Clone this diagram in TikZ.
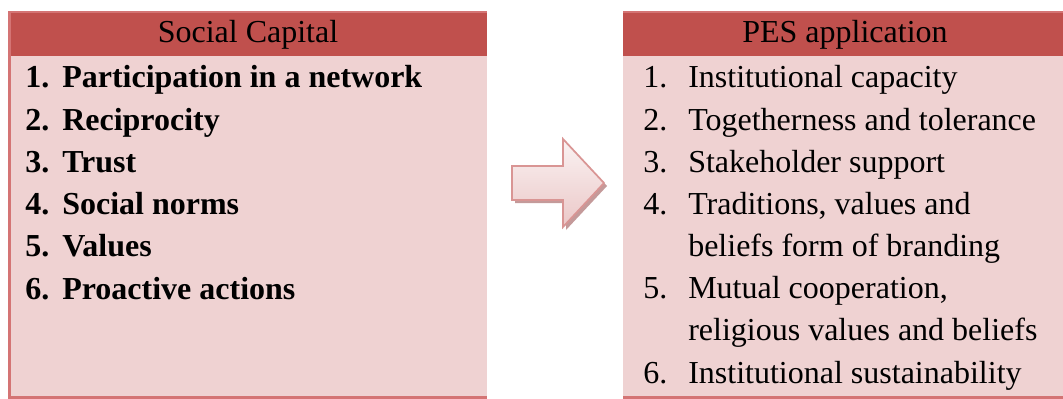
\documentclass[tikz,border=0pt]{standalone}
\usepackage{fontspec}
\setmainfont{Liberation Serif}
\begin{document}
\definecolor{hdr}{HTML}{C0504D}
\definecolor{body}{HTML}{EFD2D2}
\definecolor{rim}{HTML}{D47474}
\definecolor{arrowrim}{HTML}{D99594}
\definecolor{arrowshadow}{HTML}{C49A9A}
\definecolor{arrowtop}{HTML}{FAF3F3}
\definecolor{arrowbot}{HTML}{EBC7C7}
\begin{tikzpicture}[x=0.75pt,y=-0.75pt,
  txt/.style={anchor=base west,inner sep=0pt,font=\fontsize{24}{28}\selectfont},
  btxt/.style={txt,font=\fontsize{24}{28}\selectfont\bfseries},
  head/.style={anchor=base,inner sep=0pt,font=\fontsize{24}{28}\selectfont}]
\useasboundingbox (0,0) rectangle (1063,399);
% left panel
\fill[body] (9,12) rectangle (487,398);
\fill[hdr] (9,13) rectangle (487,56);
\draw[rim,line width=1.8pt] (487,12) -- (9.5,12) -- (9.5,397.5) -- (487,397.5);
\node[head] (lh) at (248,43) {Social Capital};
% right panel
\fill[body] (623,12) rectangle (1063,398);
\fill[hdr] (623,13) rectangle (1063,56);
\draw[rim,line width=1.8pt] (623,12) -- (1063,12);
\draw[rim,line width=1.8pt] (623,397.5) -- (1063,397.5);
\node[head] (rh) at (845,43) {PES application};
% left list
\foreach \n/\t [count=\i] in {1/Participation in a network,2/Reciprocity,3/Trust,4/Social norms,5/Values,6/Proactive actions}{
  \node[btxt] (ln\i) at (25,{88+42.2*(\i-1)}) {\n.};
  \node[btxt] (lt\i) at (62,{88+42.2*(\i-1)}) {\t};
}
% right list
\foreach \y/\n/\t [count=\i] in {0/1./Institutional capacity,1/2./Togetherness and tolerance,2/3./Stakeholder support,3/4./{Traditions, values and},4//beliefs form of branding,5/5./{Mutual cooperation,},6//religious values and beliefs,7/6./Institutional sustainability}{
  \node[txt] (rn\i) at (643,{88+42.15*\y}) {\n};
  \node[txt] (rt\i) at (688,{88+42.15*\y}) {\t};
}
% block arrow with its shadow
\fill[arrowshadow] (515,169) -- (566,169) -- (566,142) -- (607,186) -- (566,230) -- (566,203) -- (515,203) -- cycle;
\shade[top color=arrowtop,bottom color=arrowbot,draw=arrowrim,line width=1.3pt]
  (512,166) -- (563,166) -- (563,139) -- (604,183) -- (563,227) -- (563,200) -- (512,200) -- cycle;
\end{tikzpicture}
\end{document}
